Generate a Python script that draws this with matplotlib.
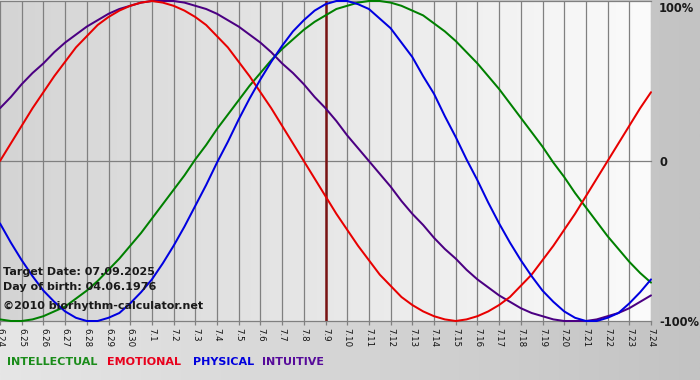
import numpy as np
import matplotlib
matplotlib.use("Agg")
import matplotlib.pyplot as plt
from matplotlib.colors import LinearSegmentedColormap

# ---- data (every half day from 6.24 to 7.24) ----
dates = ["6.24", "6.25", "6.26", "6.27", "6.28", "6.29", "6.30",
         "7.1", "7.2", "7.3", "7.4", "7.5", "7.6", "7.7", "7.8", "7.9",
         "7.10", "7.11", "7.12", "7.13", "7.14", "7.15", "7.16", "7.17",
         "7.18", "7.19", "7.20", "7.21", "7.22", "7.23", "7.24"]
samples_per_day = 2

physical = [-0.39, -0.51, -0.62, -0.72, -0.81, -0.88, -0.94, -0.98, -1.00, -1.00,
            -0.98, -0.95, -0.89, -0.82, -0.74, -0.64, -0.53, -0.41, -0.28, -0.15,
            -0.01, 0.12, 0.26, 0.39, 0.51, 0.62, 0.72, 0.81, 0.88, 0.94,
            0.98, 1.00, 1.00, 0.98, 0.95, 0.89, 0.83, 0.74, 0.65, 0.53,
            0.42, 0.28, 0.15, 0.01, -0.12, -0.26, -0.39, -0.51, -0.62, -0.72,
            -0.81, -0.88, -0.94, -0.98, -1.00, -1.00, -0.98, -0.95, -0.89, -0.82, -0.74]
emotional = [0.00, 0.11, 0.22, 0.33, 0.43, 0.53, 0.62, 0.71, 0.78, 0.85,
             0.90, 0.94, 0.97, 0.99, 1.00, 0.99, 0.97, 0.94, 0.90, 0.85,
             0.78, 0.71, 0.62, 0.53, 0.43, 0.33, 0.22, 0.11, 0.00, -0.11,
             -0.22, -0.33, -0.43, -0.53, -0.62, -0.71, -0.78, -0.85, -0.90, -0.94,
             -0.97, -0.99, -1.00, -0.99, -0.97, -0.94, -0.90, -0.85, -0.78, -0.71,
             -0.62, -0.53, -0.43, -0.33, -0.22, -0.11, 0.00, 0.11, 0.22, 0.33, 0.43]
intellectual = [-0.99, -1.00, -1.00, -0.99, -0.97, -0.94, -0.91, -0.86, -0.81, -0.75,
                -0.68, -0.61, -0.53, -0.45, -0.36, -0.27, -0.18, -0.09, 0.01, 0.10,
                0.20, 0.29, 0.38, 0.47, 0.55, 0.63, 0.70, 0.76, 0.82, 0.87,
                0.91, 0.95, 0.97, 0.99, 1.00, 1.00, 0.99, 0.97, 0.94, 0.91,
                0.86, 0.81, 0.75, 0.68, 0.61, 0.53, 0.45, 0.36, 0.27, 0.18,
                0.09, -0.01, -0.10, -0.20, -0.29, -0.38, -0.47, -0.55, -0.63, -0.70, -0.76]
intuitive = [0.33, 0.40, 0.48, 0.55, 0.61, 0.68, 0.74, 0.79, 0.84, 0.88,
             0.92, 0.95, 0.97, 0.99, 1.00, 1.00, 1.00, 0.99, 0.97, 0.95,
             0.92, 0.88, 0.84, 0.79, 0.74, 0.68, 0.61, 0.55, 0.48, 0.40,
             0.33, 0.25, 0.16, 0.08, 0.00, -0.08, -0.16, -0.25, -0.33, -0.40,
             -0.48, -0.55, -0.61, -0.68, -0.74, -0.79, -0.84, -0.88, -0.92, -0.95,
             -0.97, -0.99, -1.00, -1.00, -1.00, -0.99, -0.97, -0.95, -0.92, -0.88, -0.84]

target_date = "7.9"
series_names = ["INTELLECTUAL", "EMOTIONAL", "PHYSICAL", "INTUITIVE"]
y_labels = ["100%", "0", "-100%"]
info_lines = ["Target Date: 07.09.2025", "Day of birth: 04.06.1976",
              "\u00a92010 biorhythm-calculator.net"]

# ---- figure ----
W, H = 700, 380
fig = plt.figure(figsize=(W / 100, H / 100), dpi=100)

bg = fig.add_axes([0, 0, 1, 1], zorder=-10)
bg_cmap = LinearSegmentedColormap.from_list("bg", ["#e6e6e6", "#c3c3c3"])
bg.imshow(np.linspace(0, 1, 256).reshape(1, -1), aspect="auto", cmap=bg_cmap,
          extent=[0, 1, 0, 1])
bg.set_axis_off()

left_px, right_px, top_px, bottom_px = 0, 651, 1, 321
ax = fig.add_axes([left_px / W, 1 - bottom_px / H,
                   (right_px - left_px) / W, (bottom_px - top_px) / H])
n = len(dates)
x_days = np.arange(n)
x_samples = np.arange(len(physical)) / samples_per_day

plot_cmap = LinearSegmentedColormap.from_list("pl", ["#d4d4d4", "#fbfbfb"])
ax.imshow(np.linspace(0, 1, 256).reshape(1, -1), aspect="auto", cmap=plot_cmap,
          extent=[0, n - 1, -1, 1], zorder=0)

for xi in x_days:
    ax.axvline(xi, color="#808080", lw=0.9, zorder=1)
for yv in (1, 0, -1):
    ax.axhline(yv, color="#808080", lw=0.9, zorder=1, clip_on=False)

ax.axvline(dates.index(target_date), color="#7a1414", lw=1.8, zorder=2)

colors = {"INTELLECTUAL": "#008000", "EMOTIONAL": "#e80000",
          "PHYSICAL": "#0000e0", "INTUITIVE": "#4b0082"}
data = {"INTELLECTUAL": intellectual, "EMOTIONAL": emotional,
        "PHYSICAL": physical, "INTUITIVE": intuitive}
for name in ["INTUITIVE", "INTELLECTUAL", "EMOTIONAL", "PHYSICAL"]:
    ax.plot(x_samples, data[name], color=colors[name], lw=1.45, zorder=3,
            clip_on=False, solid_joinstyle="round", solid_capstyle="round")

ax.set_xlim(0, n - 1)
ax.set_ylim(-1, 1)
ax.set_yticks([])
ax.set_xticks(x_days)
ax.set_xticklabels(dates, rotation=270, fontsize=6.2, color="#111111")
ax.tick_params(axis="x", length=3, color="#808080", pad=2, width=0.9)
for s in ax.spines.values():
    s.set_visible(False)

for lab, ypx in zip(y_labels, [8, 162, 322]):
    fig.text(659 / W, 1 - ypx / H, lab, fontsize=8.3,
             fontweight="bold", color="#1a1a1a", va="center", ha="left")

for line, ypx in zip(info_lines, [272, 287, 306]):
    fig.text(3 / W, 1 - ypx / H, line, fontsize=8, fontweight="bold",
             color="#1a1a1a", va="center", ha="left", zorder=5)

leg_colors = ["#1a8c1a", "#e8001c", "#0000dd", "#560a9a"]
for name, xpx, c in zip(series_names, [7, 107, 193, 262], leg_colors):
    fig.text(xpx / W, 1 - 362 / H, name, fontsize=8, fontweight="bold",
             color=c, va="center", ha="left")

fig.savefig("out.png", dpi=100)
